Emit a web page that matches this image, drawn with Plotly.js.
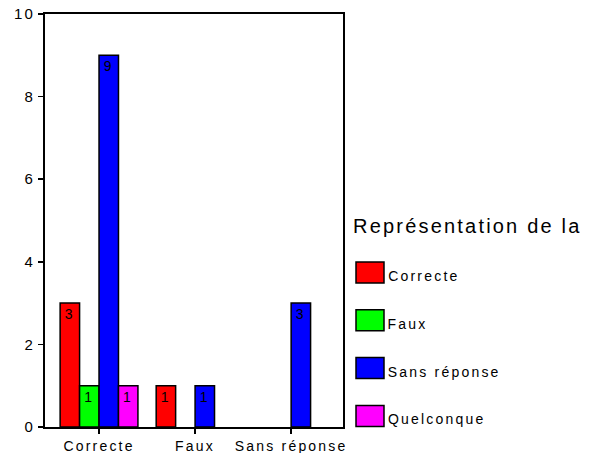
<!DOCTYPE html>
<html><head><meta charset="utf-8">
<script src="https://cdn.plot.ly/plotly-3.0.1.min.js"></script>
<style>body{margin:0;background:#fff}#c{width:598px;height:453px}#c text{letter-spacing:2.2px}</style>
</head><body><div id="c"></div>
<script>
const categories = ['Correcte', 'Faux', 'Sans réponse'];
const seriesNames = ['Correcte', 'Faux', 'Sans réponse', 'Quelconque'];
const valsCorrecte = [3, 1, 0];
const valsFaux = [1, 0, 0];
const valsSansReponse = [9, 1, 3];
const valsQuelconque = [1, 0, 0];
const colors = ['#ff0000', '#00ff00', '#0000ff', '#ff00ff'];
const yTicks = [0, 2, 4, 6, 8, 10];
const legendTitle = 'Représentation de la';

const FONT = 'Liberation Sans, Arial, sans-serif';
const LS = 2.2; // letter spacing applied by CSS
const allVals = [valsCorrecte, valsFaux, valsSansReponse, valsQuelconque];
const xpos = categories.map((c, i) => i);
const traces = allVals.map((v, k) => ({
  type: 'bar',
  name: seriesNames[k],
  x: xpos,
  y: v.map(d => d > 0 ? d : null),
  text: v.map(d => d > 0 ? String(d) : ''),
  textposition: 'inside',
  insidetextanchor: 'end',
  textangle: 0,
  textfont: {color: '#000', size: 14, family: FONT},
  marker: {color: colors[k], line: {color: '#000', width: 1.5}},
  hoverinfo: 'none',
  showlegend: false
}));

// manual legend (pixel geometry converted to paper coordinates)
const plotL = 45, plotW = 298, plotB = 427, plotH = 413;
const px = x => (x - plotL) / plotW;
const py = y => (plotB - y) / plotH;
const shapes = [];
const annotations = [{
  xref: 'paper', yref: 'paper', x: px(351 + legendTitle.length * LS / 2), y: py(226), xanchor: 'left', yanchor: 'middle',
  text: legendTitle, showarrow: false, font: {size: 20, family: FONT, color: '#000'}
}];
seriesNames.forEach((n, k) => {
  const top = 262 + k * 47.8;
  shapes.push({type: 'rect', xref: 'paper', yref: 'paper',
    x0: px(356), x1: px(384), y0: py(top + 21), y1: py(top),
    fillcolor: colors[k], line: {color: '#000', width: 1.5}});
  annotations.push({xref: 'paper', yref: 'paper', x: px(386 + n.length * LS / 2), y: py(top + 14), xanchor: 'left', yanchor: 'middle',
    text: n, showarrow: false, font: {size: 14, family: FONT, color: '#000'}});
});

const layout = {
  width: 598, height: 453,
  margin: {l: 45, r: 255, t: 14, b: 26},
  paper_bgcolor: '#fff', plot_bgcolor: '#fff',
  font: {family: FONT, color: '#000', size: 14},
  barmode: 'group', bargap: 0.19, bargroupgap: 0,
  showlegend: false,
  shapes: shapes,
  annotations: annotations,
  xaxis: {
    range: [-0.5625, 2.54],
    tickvals: xpos, ticktext: categories,
    showline: true, linecolor: '#000', linewidth: 2, mirror: true,
    ticks: 'outside', ticklen: 5, tickwidth: 1.5, tickcolor: '#000',
    showgrid: false, zeroline: false,
    tickfont: {size: 14}
  },
  yaxis: {
    range: [0, 10],
    tickvals: yTicks,
    showline: true, linecolor: '#000', linewidth: 2, mirror: true,
    ticks: 'outside', ticklen: 5, tickwidth: 1.5, tickcolor: '#000',
    showgrid: false, zeroline: false,
    tickfont: {size: 15}
  }
};
Plotly.newPlot('c', traces, layout, {displayModeBar: false, staticPlot: true});
</script></body></html>
